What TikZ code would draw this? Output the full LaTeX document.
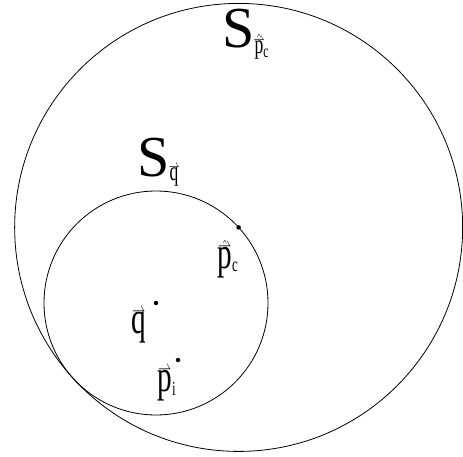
\documentclass[tikz,border=0pt]{standalone}
\usepackage{amsmath}
\usepackage{fontspec}
\setmainfont{Liberation Serif}
\usetikzlibrary{calc}
\DeclareMathSizes{45}{45}{20}{14}
\DeclareMathSizes{27}{27}{18}{12}
\newcommand{\narrowtxt}[1]{\scalebox{0.65}[1]{#1}}
\newcommand{\hvec}[1]{\text{\ooalign{#1\cr\hidewidth\raisebox{0.37em}{$\scriptstyle\rightharpoonup$}\hidewidth\cr}}}
\tikzset{
	dotpt/.style={circle,fill,inner sep=0pt,minimum size=4.5pt},
	biglbl/.style={inner sep=0pt,anchor=base west,font=\fontsize{58}{58}\selectfont},
	lbl/.style={inner sep=0pt,anchor=base west,font=\fontsize{45}{45}\selectfont}
}
\begin{document}
\begin{tikzpicture}[x=1pt,y=1pt,line width=0.8pt]
\useasboundingbox (0,0) rectangle (463,-457);
% % Centres
 \coordinate (q) at (156,-303);
 \coordinate (pc) at ($(q)+(42.45:112)$);
% % Spheres
 \draw (q) circle (112pt);
 \draw (pc) circle (224pt);
% % Points
 \node[dotpt] (qdot) at (q){};
 \node[dotpt] (pcdot) at (pc){};
 \node[dotpt] (pidot) at (178,-360){};
% % Labels
 \node[biglbl] (Spc) at (222,-48) {S\raisebox{-6pt}{\fontsize{27}{27}\selectfont\narrowtxt{$\hat{\hvec{p}}_{\text{c}}$}}};
 \node[biglbl] (Sq) at (137,-177) {S\raisebox{-4pt}{\fontsize{27}{27}\selectfont\narrowtxt{$\hvec{q}$}}};
 \node[lbl] (pclbl) at (217,-268) {\narrowtxt{$\hat{\hvec{p}}_{\text{c}}$}};
 \node[lbl] (qlbl) at (131,-333) {\narrowtxt{$\hvec{q}$}};
 \node[lbl] (pilbl) at (157,-391) {\narrowtxt{$\hvec{p}_{\text{i}}$}};
\end{tikzpicture}
\end{document}
